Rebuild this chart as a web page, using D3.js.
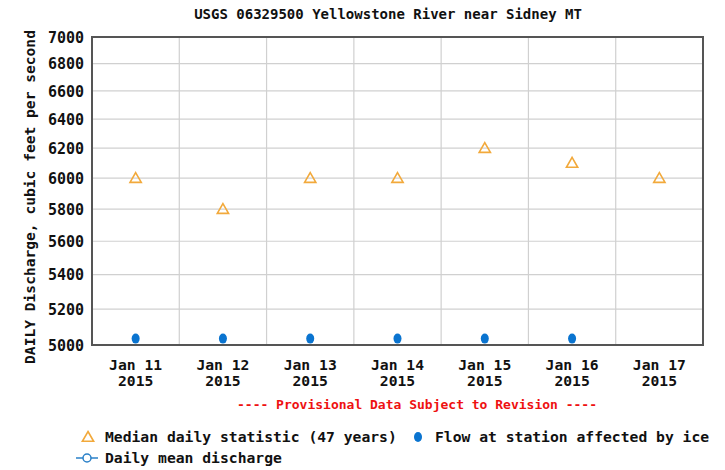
<!DOCTYPE html>
<html><head><meta charset="utf-8">
<script src="https://cdn.jsdelivr.net/npm/d3@7"></script>
<style>
html,body{margin:0;padding:0;background:#fff;}
text{font-family:"DejaVu Sans Mono",monospace;font-weight:bold;}
</style></head>
<body><svg id="c" width="725" height="470"></svg>
<script>
const title = "USGS 06329500 Yellowstone River near Sidney MT";
const yTitle = "DAILY Discharge, cubic feet per second";
const dates = ["Jan 11","Jan 12","Jan 13","Jan 14","Jan 15","Jan 16","Jan 17"];
const years = ["2015","2015","2015","2015","2015","2015","2015"];
const medianVals = [6000,5800,6000,6000,6200,6100,6000];
const iceVals = [5035,5035,5035,5035,5035,5035,null];
const yTicks = [5000,5200,5400,5600,5800,6000,6200,6400,6600,6800,7000];
const provisional = "---- Provisional Data Subject to Revision ----";
const legendMedian = "Median daily statistic (47 years)";
const legendIce = "Flow at station affected by ice";
const legendMean = "Daily mean discharge";

const svg = d3.select("#c");
const L=92,R=703,T=37,B=345;
const x = d3.scaleBand().domain(dates).range([L,R]).padding(0);
const y = d3.scaleLog().domain([5000,7000]).range([B,T]);
const orange="#f2a93b", blue="#0a74d0";

// grid
svg.append("g").selectAll("line").data(yTicks.slice(1,-1)).join("line")
  .attr("x1",L).attr("x2",R).attr("y1",d=>y(d)).attr("y2",d=>y(d))
  .attr("stroke","#d0d0d0").attr("stroke-width",1.2);
svg.append("g").selectAll("line").data(dates.slice(1)).join("line")
  .attr("x1",d=>x(d)).attr("x2",d=>x(d)).attr("y1",T).attr("y2",B)
  .attr("stroke","#d0d0d0").attr("stroke-width",1.2);
svg.append("rect").attr("x",L).attr("y",T).attr("width",R-L).attr("height",B-T)
  .attr("fill","none").attr("stroke","#555").attr("stroke-width",2);

// y axis labels
const yAxis = d3.axisLeft(y).tickValues(yTicks).tickFormat(d3.format("d")).tickSize(0).tickPadding(8);
const ga = svg.append("g").attr("transform",`translate(${L},0)`).call(yAxis);
ga.select(".domain").remove();
ga.selectAll("text").attr("font-size",15).attr("font-family","DejaVu Sans Mono").attr("font-weight","bold").attr("fill","#111").attr("dy","0.35em");

// x axis labels
const xAxis = d3.axisBottom(x).tickSize(0).tickPadding(0).tickFormat(()=> "");
const gx = svg.append("g").attr("transform",`translate(0,${B})`).call(xAxis);
gx.select(".domain").remove();
gx.selectAll(".tick").each(function(d,i){
  const t=d3.select(this).append("text").attr("fill","#111").attr("font-size",14.7).attr("text-anchor","middle");
  t.append("tspan").attr("x",0).attr("y",25).text(d);
  t.append("tspan").attr("x",0).attr("y",41).text(years[i]);
});

// title
svg.append("text").attr("x",388).attr("y",19).attr("text-anchor","middle").attr("font-size",14).attr("fill","#111").text(title);
svg.append("text").attr("transform",`translate(35,${(T+B)/2+6}) rotate(-90)`).attr("text-anchor","middle").attr("font-size",14.6).attr("fill","#111").text(yTitle);
svg.append("text").attr("x",417).attr("y",409).attr("text-anchor","middle").attr("font-size",13).attr("fill","#ee1111").text(provisional);

// marks
const tri = d3.symbol().type(d3.symbolTriangle).size(55);
svg.append("g").selectAll("path").data(medianVals.map((v,i)=>({d:dates[i],v}))).join("path")
  .attr("d",tri).attr("transform",d=>`translate(${x(d.d)+x.bandwidth()/2},${y(d.v)+1})`)
  .attr("fill","none").attr("stroke",orange).attr("stroke-width",1.6);
svg.append("g").selectAll("ellipse").data(iceVals.map((v,i)=>({d:dates[i],v})).filter(d=>d.v!=null)).join("ellipse")
  .attr("cx",d=>x(d.d)+x.bandwidth()/2).attr("cy",d=>y(d.v)).attr("rx",4).attr("ry",5).attr("fill",blue);

// legend
const lg = svg.append("g");
lg.append("path").attr("d",tri).attr("transform","translate(88,438)").attr("fill","none").attr("stroke",orange).attr("stroke-width",1.6);
lg.append("text").attr("x",105).attr("y",442).attr("font-size",14.7).attr("fill","#111").text(legendMedian);
lg.append("ellipse").attr("cx",418).attr("cy",437).attr("rx",4).attr("ry",5).attr("fill",blue);
lg.append("text").attr("x",435).attr("y",442).attr("font-size",14.7).attr("fill","#111").text(legendIce);
lg.append("line").attr("x1",76).attr("x2",98).attr("y1",458).attr("y2",458).attr("stroke","#2a80c8").attr("stroke-width",1.5);
lg.append("circle").attr("cx",87).attr("cy",458).attr("r",4).attr("fill","#fff").attr("stroke","#2a80c8").attr("stroke-width",1.5);
lg.append("text").attr("x",105).attr("y",463).attr("font-size",14.7).attr("fill","#111").text(legendMean);
</script></body></html>
